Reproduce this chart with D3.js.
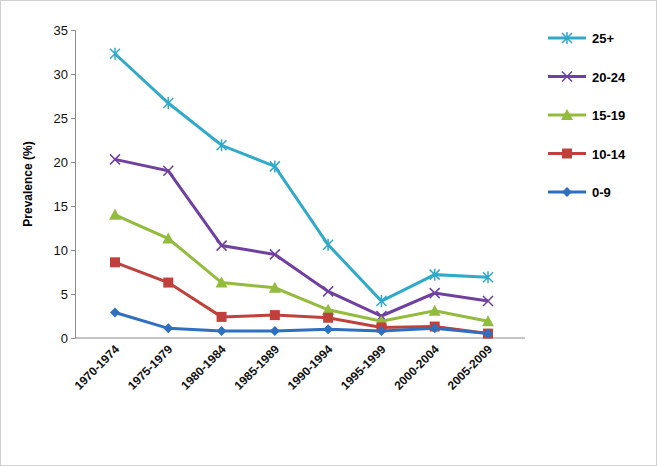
<!DOCTYPE html>
<html><head><meta charset="utf-8">
<script src="https://cdn.jsdelivr.net/npm/d3@7"></script>
<style>body{margin:0;background:#fff;font-family:Arial,"Liberation Sans",sans-serif}</style>
</head><body><div id="chart"></div>
<script>
const categories = ['1970-1974', '1975-1979', '1980-1984', '1985-1989', '1990-1994', '1995-1999', '2000-2004', '2005-2009']
const yTicks = [0, 5, 10, 15, 20, 25, 30, 35]
const s25 = [32.3, 26.7, 21.9, 19.5, 10.6, 4.2, 7.2, 6.9]
const s2024 = [20.3, 19.0, 10.5, 9.5, 5.3, 2.5, 5.1, 4.2]
const s1519 = [14.0, 11.3, 6.3, 5.7, 3.2, 1.9, 3.1, 1.9]
const s1014 = [8.6, 6.3, 2.4, 2.6, 2.3, 1.2, 1.3, 0.5]
const s09 = [2.9, 1.1, 0.8, 0.8, 1.0, 0.8, 1.1, 0.5]

const series = [
  { name: '25+', values: s25, color: '#31a9c9', marker: 'star' },
  { name: '20-24', values: s2024, color: '#7040a0', marker: 'x' },
  { name: '15-19', values: s1519, color: '#93bb3c', marker: 'tri' },
  { name: '10-14', values: s1014, color: '#c0403c', marker: 'square' },
  { name: '0-9', values: s09, color: '#2f6fc0', marker: 'diamond' }
]

const width = 657, height = 466
const margin = { top: 30, left: 75, right: 137, bottom: 128 }
const svg = d3.select('#chart').append('svg').attr('width', width).attr('height', height)
svg.append('rect').attr('x', 0.5).attr('y', 0.5).attr('width', width - 1).attr('height', height - 1)
  .attr('fill', '#fff').attr('stroke', '#d0d0d0')

const x = d3.scalePoint().domain(categories).range([margin.left + 40, width - margin.right - 32])
const y = d3.scaleLinear().domain([0, 35]).range([height - margin.bottom, margin.top])

svg.append('g').attr('transform', `translate(${margin.left},0)`)
  .call(d3.axisLeft(y).tickValues(yTicks).tickSize(4))
  .call(g => g.select('.domain').attr('stroke', '#888'))
  .call(g => g.selectAll('.tick line').attr('stroke', '#888'))
  .call(g => g.selectAll('.tick text').attr('font-size', 13).attr('fill', '#111'))

const xAxis = svg.append('g').attr('transform', `translate(0,${y(0)})`)
xAxis.append('line').attr('x1', margin.left).attr('x2', width - margin.right + 5).attr('stroke', '#888')
xAxis.selectAll('text').data(categories).enter().append('text')
  .attr('transform', d => `translate(${x(d) + 5},12) rotate(-45)`)
  .attr('text-anchor', 'end').attr('font-size', 12).attr('font-weight', 'bold').attr('fill', '#111')
  .text(d => d)

svg.append('text').attr('transform', `translate(32,${(y(0) + y(35)) / 2}) rotate(-90)`)
  .attr('text-anchor', 'middle').attr('font-size', 12).attr('font-weight', 'bold').text('Prevalence (%)')

function marker (g, type, color) {
  if (type === 'star') {
    g.append('path').attr('d', 'M-5,-5L5,5M-5,5L5,-5M0,-6L0,6').attr('stroke', color).attr('stroke-width', 1.5)
  } else if (type === 'x') {
    g.append('path').attr('d', 'M-5,-5L5,5M-5,5L5,-5').attr('stroke', color).attr('stroke-width', 1.5)
  } else if (type === 'tri') {
    g.append('path').attr('d', 'M0,-6L6,5L-6,5Z').attr('fill', color)
  } else if (type === 'square') {
    g.append('rect').attr('x', -5).attr('y', -5).attr('width', 10).attr('height', 10).attr('fill', color)
  } else {
    g.append('path').attr('d', 'M0,-5L5,0L0,5L-5,0Z').attr('fill', color)
  }
}

const line = d3.line().x((d, i) => x(categories[i])).y(d => y(d))
series.forEach(s => {
  svg.append('path').attr('d', line(s.values)).attr('fill', 'none').attr('stroke', s.color).attr('stroke-width', 3)
  s.values.forEach((v, i) => {
    marker(svg.append('g').attr('transform', `translate(${x(categories[i])},${y(v)})`), s.marker, s.color)
  })
})

const legend = svg.append('g').attr('transform', 'translate(548,38)')
series.forEach((s, i) => {
  const g = legend.append('g').attr('transform', `translate(0,${i * 38.5})`)
  g.append('line').attr('x1', 0).attr('x2', 38).attr('stroke', s.color).attr('stroke-width', 3)
  marker(g.append('g').attr('transform', 'translate(19,0)'), s.marker, s.color)
  g.append('text').attr('x', 44).attr('y', 5).attr('font-size', 13).attr('font-weight', 'bold').text(s.name)
})
</script></body></html>
